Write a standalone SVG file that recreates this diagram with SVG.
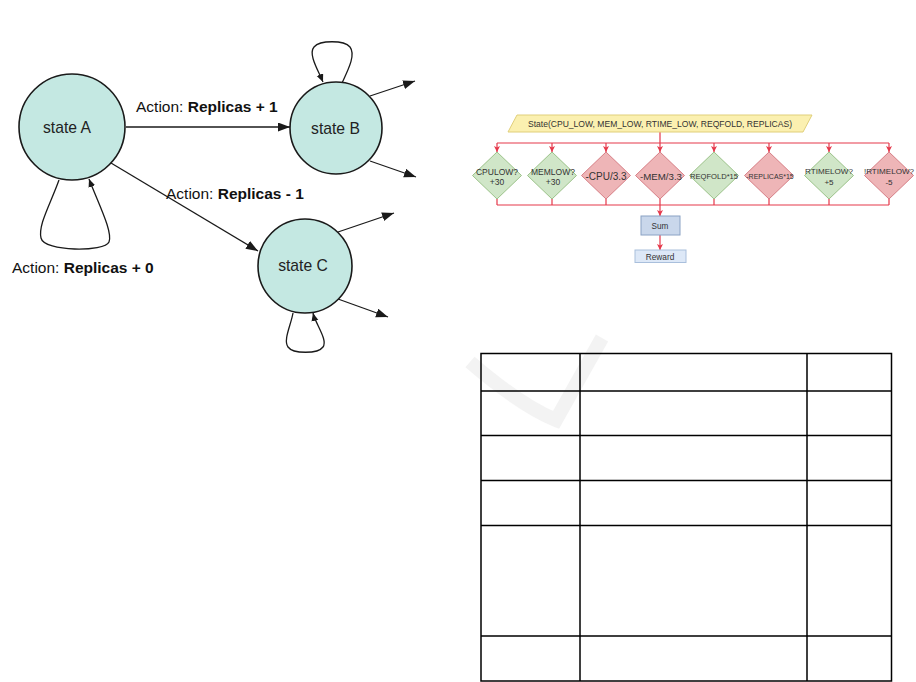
<svg xmlns="http://www.w3.org/2000/svg" width="916" height="682" viewBox="0 0 916 682">
<style>
.t{font-family:"Liberation Sans",Arial,sans-serif;fill:#111}
.lbl{font-size:15.5px}
.st{font-size:15.7px;text-anchor:middle;fill:#222}
.circ{fill:#c4e8e2;stroke:#1a1a1a;stroke-width:1.6}
.edge{fill:none;stroke:#1a1a1a;stroke-width:1.3}
.red{fill:none;stroke:#e5384a;stroke-width:1.2}
.dg{fill:#d0e6c8;stroke:#9cc38a;stroke-width:1}
.dr{fill:#eeb5b7;stroke:#d77f86;stroke-width:1}
.ft{font-family:"Liberation Sans",Arial,sans-serif;fill:#333;text-anchor:middle}
.tab{fill:none;stroke:#000;stroke-width:1.5}
</style>
<defs>
<marker id="ah" markerUnits="userSpaceOnUse" markerWidth="13" markerHeight="10" refX="12" refY="4.5" orient="auto"><path d="M0,0 L12,4.5 L0,9 z" fill="#1a1a1a"/></marker>
<marker id="ahs" markerUnits="userSpaceOnUse" markerWidth="9" markerHeight="8" refX="8" refY="3.5" orient="auto"><path d="M0,0 L8,3.5 L0,7 z" fill="#1a1a1a"/></marker>
<marker id="ar" markerUnits="userSpaceOnUse" markerWidth="7" markerHeight="7" refX="6" refY="3" orient="auto"><path d="M0,0 L6,3 L0,6 L1.5,3 z" fill="#e5384a"/></marker>
</defs>
<rect width="916" height="682" fill="#fff"/>
<g id="watermark" opacity="0.5">
<path d="M470,362 Q520,405 556,420 L602,338" fill="none" stroke="#e8e8e8" stroke-width="14"/>
</g>
<g id="connectors">
<path class="edge" d="M126,127 L290,127" marker-end="url(#ah)"/>
<path class="edge" d="M111,163 L258,251" marker-end="url(#ah)"/>
<path class="edge" d="M370,96 L415,81" marker-end="url(#ah)"/>
<path class="edge" d="M370,161 L416,177" marker-end="url(#ah)"/>
<path class="edge" d="M338,232 L394,213" marker-end="url(#ah)"/>
<path class="edge" d="M338,299 L388,317" marker-end="url(#ah)"/>
<path class="edge" d="M59,180 C50,205 38,225 41,238 C44,252 105,252 109,242 C113,232 99,205 89,179" marker-end="url(#ahs)"/>
<path class="edge" d="M342,83 C348,70 356,55 350,47 C344,40 320,40 314,47 C308,54 318,70 323,82" marker-end="url(#ahs)"/>
<path class="edge" d="M293,313 C291,325 283,340 288,347 C293,354 318,354 323,347 C328,340 316,325 313,313" marker-end="url(#ahs)"/>
<path class="red" d="M660,132 V143 M497,143 H889"/>
<path class="red" d="M497,143 V152" marker-end="url(#ar)"/>
<path class="red" d="M552,143 V152" marker-end="url(#ar)"/>
<path class="red" d="M606,143 V152" marker-end="url(#ar)"/>
<path class="red" d="M660,143 V152" marker-end="url(#ar)"/>
<path class="red" d="M714,143 V152" marker-end="url(#ar)"/>
<path class="red" d="M769,143 V152" marker-end="url(#ar)"/>
<path class="red" d="M829,143 V152" marker-end="url(#ar)"/>
<path class="red" d="M889,143 V152" marker-end="url(#ar)"/>
<path class="red" d="M497,199 V205 M552,199 V205 M606,199 V205 M660,199 V205 M714,199 V205 M769,199 V205 M829,199 V205 M889,199 V205 M497,205 H889"/>
<path class="red" d="M660,205 V216" marker-end="url(#ar)"/>
<path class="red" d="M660,235 V250" marker-end="url(#ar)"/>
</g>
<g id="labels" class="t lbl">
<text x="136" y="112">Action: <tspan font-weight="bold">Replicas + 1</tspan></text>
<text x="166" y="199">Action: <tspan font-weight="bold">Replicas - 1</tspan></text>
<text x="12" y="273">Action: <tspan font-weight="bold">Replicas + 0</tspan></text>
</g>
<g id="stateA"><circle class="circ" cx="72" cy="127" r="53"/><text class="t st" x="67" y="133">state A</text></g>
<g id="stateB"><circle class="circ" cx="336" cy="128" r="46"/><text class="t st" x="335.5" y="133.5">state B</text></g>
<g id="stateC"><circle class="circ" cx="305" cy="266" r="47"/><text class="t st" x="303" y="271">state C</text></g>
<g id="state"><polygon points="517,115 812,115 803,132 508,132" fill="#fbf0b0" stroke="#e0cf7a" stroke-width="1"/><text class="ft" x="660" y="127" font-size="9" textLength="264" lengthAdjust="spacingAndGlyphs">State(CPU_LOW, MEM_LOW, RTIME_LOW, REQFOLD, REPLICAS)</text></g>
<g id="cpulow"><polygon class="dg" points="497,152 521.5,175.5 497,199 472.5,175.5"/><text class="ft" font-size="8.5"><tspan x="497" y="174.5">CPULOW?</tspan><tspan x="497" y="184.5">+30</tspan></text></g>
<g id="memlow"><polygon class="dg" points="552,152 576.5,175.5 552,199 527.5,175.5"/><text class="ft" font-size="8.5"><tspan x="553" y="174.5">MEMLOW?</tspan><tspan x="553" y="184.5">+30</tspan></text></g>
<g id="cpu"><polygon class="dr" points="606,152 630.5,175.5 606,199 581.5,175.5"/><text class="ft" x="606" y="179.5" font-size="10">-CPU/3.3</text></g>
<g id="mem"><polygon class="dr" points="660,152 684.5,175.5 660,199 635.5,175.5"/><text class="ft" x="661" y="179.5" font-size="9.7">-MEM/3.3</text></g>
<g id="reqfold"><polygon class="dg" points="714,152 738.5,175.5 714,199 689.5,175.5"/><text class="ft" x="714" y="179" font-size="7.6">REQFOLD*15</text></g>
<g id="replicas"><polygon class="dr" points="769,152 793.5,175.5 769,199 744.5,175.5"/><text class="ft" x="770" y="179" font-size="7">-REPLICAS*15</text></g>
<g id="rtimelow"><polygon class="dg" points="829,152 853.5,175.5 829,199 804.5,175.5"/><text class="ft" font-size="8.1"><tspan x="829" y="174">RTIMELOW?</tspan><tspan x="829" y="184.5">+5</tspan></text></g>
<g id="nrtimelow"><polygon class="dr" points="889,152 913.5,175.5 889,199 864.5,175.5"/><text class="ft" font-size="8.1"><tspan x="889" y="174">!RTIMELOW?</tspan><tspan x="889" y="184.5">-5</tspan></text></g>
<g id="sum"><rect x="641" y="216" width="39" height="19" fill="#c9d7eb" stroke="#8aa2c4" stroke-width="1"/><text class="ft" x="660" y="228.5" font-size="8.2">Sum</text></g>
<g id="reward"><rect x="635" y="250" width="51" height="12.5" fill="#dde8f7" stroke="#a9bfdc" stroke-width="1"/><text class="ft" x="660" y="259.5" font-size="8.3">Reward</text></g>
<g id="table">
<rect class="tab" x="481" y="353.5" width="410.5" height="327.5"/>
<path class="tab" d="M580,353.5 V681 M807,353.5 V681 M481,391 H891.5 M481,435.5 H891.5 M481,480.5 H891.5 M481,525.5 H891.5 M481,636 H891.5"/>
</g>
</svg>
